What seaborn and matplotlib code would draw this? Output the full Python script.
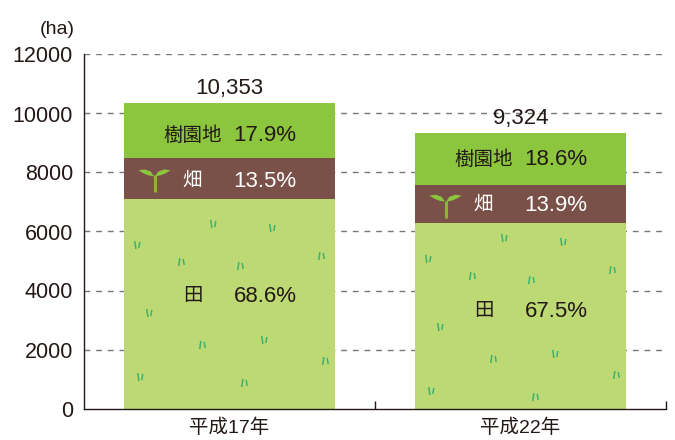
import matplotlib
matplotlib.use("Agg")
import matplotlib.pyplot as plt
import seaborn as sns
from matplotlib.collections import LineCollection, PolyCollection
from matplotlib.transforms import IdentityTransform

years = ["平成17年", "平成22年"]
paddy = [7102, 6294]
field = [1398, 1296]
orchard = [1853, 1734]
totals = [10353, 9324]
total_labels = ["10,353", "9,324"]
paddy_pct = ["68.6%", "67.5%"]
field_pct = ["13.5%", "13.9%"]
orchard_pct = ["17.9%", "18.6%"]
y_ticks = [0, 2000, 4000, 6000, 8000, 10000, 12000]

# label heights in ha
paddy_label_y = [3795, 3290]
field_label_y = [7695, 6880]
orchard_label_y = [9255, 8440]

# decorative grass tufts: (pixel offset from bar centre, height in ha)
tuft_spots = [(-92, 5542), (-48, 4966), (-16, 6254), (11, 4830), (43, 6119), (92, 5169),
              (-80, 3237), (-27, 2153), (35, 2322), (96, 1610), (-89, 1068), (15, 864)]
tuft_shift = [0, -475]

sns.set_theme(style="white")
FONT = ["Liberation Sans", "Noto Sans CJK JP", "DejaVu Sans"]
plt.rcParams["font.family"] = FONT
INK = "#231815"

W, H = 675, 440
fig = plt.figure(figsize=(W / 100, H / 100), dpi=100, facecolor="white")
ax = fig.add_axes([84 / W, (H - 408.5) / H, 582 / W, 354 / H])

for tick in y_ticks[1:]:
    ax.axhline(tick, color="#777777", lw=1, dashes=(4.2, 4.2), zorder=0)

lower = [0, 0]
for vals, col in [(paddy, "#BCD974"), (field, "#7A5148"), (orchard, "#8CC63E")]:
    sns.barplot(x=years, y=vals, bottom=lower, color=col, width=0.727, saturation=1,
                linewidth=0, ax=ax, zorder=2)
    lower = [a + b for a, b in zip(lower, vals)]

ax.set_xlim(-0.5, 1.5)
ax.set_ylim(0, 12000)
ax.set_yticks(y_ticks)
ax.tick_params(axis="y", length=0, labelsize=15.5, pad=8, labelcolor=INK)
ax.tick_params(axis="x", which="major", length=0, labelsize=14, pad=7, labelcolor=INK)
ax.set_xticks([0.5, 1.5], minor=True)
ax.tick_params(axis="x", which="minor", bottom=True, direction="in", length=6, width=1, color=INK)
sns.despine(ax=ax)
for s in ("left", "bottom"):
    ax.spines[s].set_color(INK)
    ax.spines[s].set_linewidth(1)
    ax.spines[s].set_zorder(5)
ax.set_xlabel("")
ax.set_ylabel("")

ax.annotate("(ha)", xy=(0, 1), xycoords="axes fraction", xytext=(-9, 25), textcoords="offset pixels",
            ha="right", va="center", fontsize=14, color=INK)


def seg_text(i, y, name, pct, color, name_dx):
    ax.annotate(pct, xy=(i, y), xytext=(67, 0), textcoords="offset pixels", ha="right",
                va="center", fontsize=16, color=color, zorder=6)
    ax.annotate(name, xy=(i, y), xytext=(name_dx, 0), textcoords="offset pixels", ha="center",
                va="center", fontsize=14, color=color, zorder=6)


for i in range(2):
    ax.annotate(total_labels[i], xy=(i, totals[i]), xytext=(0, 15), textcoords="offset pixels",
                ha="center", va="center", fontsize=16, color=INK, zorder=6)
    seg_text(i, paddy_label_y[i], "田", paddy_pct[i], INK, -37)
    seg_text(i, field_label_y[i], "畑", field_pct[i], "white", -37)
    seg_text(i, orchard_label_y[i], "樹園地", orchard_pct[i], INK, -37)

fig.canvas.draw()

# grass tufts, positioned in data space, drawn in pixels
segs = []
for i in range(2):
    for k, (dx, y) in enumerate(tuft_spots):
        px, py = ax.transData.transform((i, y + tuft_shift[i]))
        lean = 1 if k % 2 else -1
        segs.append([(px + dx - 2.2 - lean * 0.6, py - 4), (px + dx - 2.2 + lean * 0.6, py + 4)])
        segs.append([(px + dx + 2.0 + lean * 0.7, py - 3), (px + dx + 2.0 - lean * 0.3, py + 3)])
ax.add_collection(LineCollection(segs, colors="#3DB26E", linewidths=1.1,
                                 transform=IdentityTransform(), zorder=4))

# sprout icons beside the 畑 label
for i in range(2):
    cx, cy = ax.transData.transform((i, paddy[i] + field[i] / 2))
    cx -= 75
    ax.add_collection(LineCollection([[(cx, cy - 14), (cx, cy + 3)]], colors="#8CB43C", linewidths=2.2,
                                     transform=IdentityTransform(), zorder=4))
    left = [(cx - 16, cy + 8), (cx - 10, cy + 9), (cx - 4, cy + 7), (cx - 0.5, cy + 2),
            (cx - 6, cy + 3), (cx - 11, cy + 5)]
    right = [(2 * cx - a, b) for a, b in left]
    ax.add_collection(PolyCollection([left, right], facecolors="#8CC63E", edgecolors="none",
                                     transform=IdentityTransform(), zorder=4))

fig.savefig("out.png", dpi=100, facecolor="white")
